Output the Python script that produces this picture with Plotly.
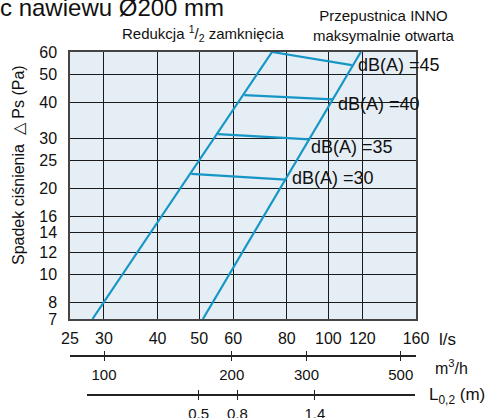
import math
import plotly.graph_objects as go

# ---------------- data ----------------
flow_ticks = [25, 30, 40, 50, 60, 80, 100, 120, 160]          # l/s
dp_ticks = [7, 8, 10, 12, 14, 16, 20, 25, 30, 40, 50, 60]     # Pa
m3h_ticks = [100, 200, 300, 500]                               # m3/h
throw_ticks = [0.5, 0.8, 1.4]                                  # L0,2 (m)

reduced_flow = [28.2, 73.9]     # Redukcja 1/2 zamknięcia
reduced_dp = [7, 60]
open_flow = [51.0, 119.0]       # Przepustnica maksymalnie otwarta
open_dp = [7, 60]

db_levels = [45, 40, 35, 30]
db_flow_reduced = [73.9, 63.7, 55.3, 47.9]
db_dp_reduced = [60, 42.4, 31.0, 22.5]
db_flow_open = [113.4, 102.2, 90.4, 79.4]
db_dp_open = [54.0, 41.0, 29.7, 21.5]

# ---------------- styling ----------------
W, H = 490, 418
FONT = "Liberation Sans, Arial, sans-serif"
LINE_C = "#1596c6"
BG = "#e6eef5"
GRID = "#1a1a1a"
label_dx = [4, 4, -1, 5]
label_dy = [0, -5, -8, 2]

def fx(px):
    return px / W

def fy(py):
    return (H - py) / H

fig = go.Figure()

for xs, ys in [(reduced_flow, reduced_dp), (open_flow, open_dp)]:
    fig.add_trace(go.Scatter(x=xs, y=ys, mode="lines",
                             line=dict(color=LINE_C, width=2.2),
                             hoverinfo="skip", showlegend=False))

for i, lvl in enumerate(db_levels):
    fig.add_trace(go.Scatter(x=[db_flow_reduced[i], db_flow_open[i]],
                             y=[db_dp_reduced[i], db_dp_open[i]],
                             mode="lines", line=dict(color=LINE_C, width=2.2),
                             hoverinfo="skip", showlegend=False))
    fig.add_annotation(x=math.log10(db_flow_open[i]), y=math.log10(db_dp_open[i]),
                       xref="x", yref="y", text=f"dB(A) ={lvl}",
                       showarrow=False, xanchor="left", yanchor="middle",
                       xshift=label_dx[i], yshift=label_dy[i],
                       font=dict(size=18, color="#111", family=FONT))

# invisible carriers so the auxiliary scales get drawn
fig.add_trace(go.Scatter(x=m3h_ticks, y=[0.5] * len(m3h_ticks), xaxis="x2", yaxis="y2",
                         mode="markers", marker=dict(opacity=0), hoverinfo="skip",
                         showlegend=False))
fig.add_trace(go.Scatter(x=throw_ticks, y=[0.5] * len(throw_ticks), xaxis="x3", yaxis="y3",
                         mode="markers", marker=dict(opacity=0), hoverinfo="skip",
                         showlegend=False))

fig.update_layout(
    template="none",
    width=W, height=H,
    margin=dict(l=0, r=0, t=0, b=0, pad=0),
    paper_bgcolor="white",
    plot_bgcolor=BG,
    font=dict(family=FONT, color="#111", size=16),
    xaxis=dict(type="log", domain=[fx(70), fx(416)], anchor="y", automargin=False,
               range=[math.log10(25), math.log10(160)],
               tickvals=flow_ticks, ticktext=[str(v) for v in flow_ticks],
               ticks="", ticklabelstandoff=4,
               showgrid=True, gridcolor=GRID, gridwidth=1.2,
               showline=True, linecolor="#444", linewidth=1.5, mirror=True,
               zeroline=False, tickfont=dict(size=16)),
    yaxis=dict(type="log", domain=[fy(319), fy(52)], anchor="x", automargin=False,
               range=[math.log10(7), math.log10(60)],
               tickvals=dp_ticks, ticktext=[str(v) for v in dp_ticks],
               ticks="", ticklabelstandoff=8,
               showgrid=True, gridcolor=GRID, gridwidth=1.2,
               showline=True, linecolor="#444", linewidth=1.5, mirror=True,
               zeroline=False, tickfont=dict(size=16)),
    # m3/h auxiliary scale
    xaxis2=dict(type="log", domain=[fx(70), fx(416)], anchor="y2", automargin=False,
                range=[2 - 34 / 424.5, 2 - 34 / 424.5 + 346 / 424.5],
                tickvals=m3h_ticks, ticktext=[str(v) for v in m3h_ticks],
                ticks="outside", ticklen=4, tickwidth=1, tickcolor="#222",
                showline=True, linecolor="#222", linewidth=1, mirror="ticks",
                showgrid=False, zeroline=False, ticklabelstandoff=1,
                tickfont=dict(size=15)),
    yaxis2=dict(domain=[fy(356), fy(356) + 0.001], anchor="x2", visible=False,
                range=[0, 1], automargin=False),
    # L0,2 auxiliary scale
    xaxis3=dict(type="linear", domain=[fx(87), fx(415)], anchor="y3", automargin=False,
                range=[0.5 - (198.7 - 87) / 129, 0.5 + (415 - 198.7) / 129],
                tickvals=throw_ticks, ticktext=[str(v) for v in throw_ticks],
                ticks="outside", ticklen=4, tickwidth=1, tickcolor="#222",
                showline=True, linecolor="#222", linewidth=1, mirror="ticks",
                showgrid=False, zeroline=False, ticklabelstandoff=1,
                tickfont=dict(size=15)),
    yaxis3=dict(domain=[fy(395), fy(395) + 0.001], anchor="x3", visible=False,
                range=[0, 1], automargin=False),
)

# titles / units
def note(px, py, text, size, xanchor="center", **kw):
    fig.add_annotation(x=fx(px), y=fy(py), xref="paper", yref="paper",
                       xanchor=xanchor, yanchor="middle", text=text, showarrow=False,
                       font=dict(size=size, color="#111", family=FONT), **kw)

note(0, 7, "c nawiewu Ø200 mm", 24, xanchor="left", xshift=-2)
note(203, 33, "Redukcja <sup>1</sup>/<sub>2</sub> zamknięcia", 15)
note(384, 26, "Przepustnica INNO<br>maksymalnie otwarta", 15)
note(18, 165, "Spadek ciśnienia  △ Ps (Pa)", 16, textangle=-90)
note(437, 339, "l/s", 17, xanchor="left")
note(433, 367, "m<sup>3</sup>/h", 16, xanchor="left")
note(427, 396, "L<sub>0,2</sub> (m)", 17, xanchor="left")

fig.write_html("out.html", config={"displayModeBar": False},
               post_script="document.body.style.margin='0px';")
